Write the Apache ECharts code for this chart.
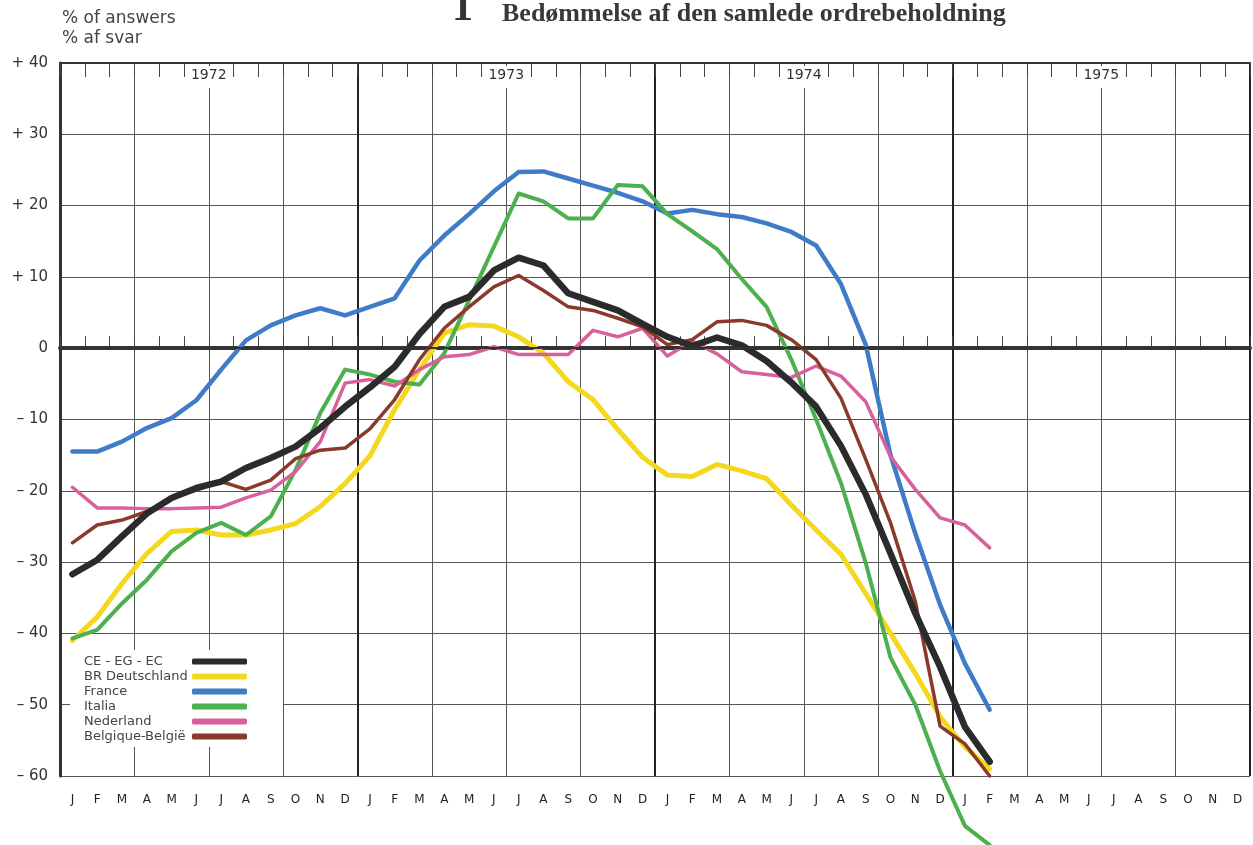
<!DOCTYPE html>
<html>
<head>
<meta charset="utf-8">
<title>Bedømmelse af den samlede ordrebeholdning</title>
<script src="https://cdn.jsdelivr.net/npm/echarts@6/dist/echarts.min.js"></script>
<style>
  body { margin: 0; background: #fff; }
  #main { width: 1253px; height: 845px; }
</style>
</head>
<body>
<div id="main"></div>
<script>
// month letters, 4 years 1972-1975
var monthLetters = ['J', 'F', 'M', 'A', 'M', 'J', 'J', 'A', 'S', 'O', 'N', 'D'];
var years = [1972, 1973, 1974, 1975];
var yTicks = [-60, -50, -40, -30, -20, -10, 0, 10, 20, 30, 40];

// % of answers, monthly from J 1972 to F 1975
var ec = [-31.7, -29.7, -26.4, -23.2, -21.0, -19.6, -18.7, -16.8, -15.4, -13.8, -11.2, -8.2,
  -5.5, -2.6, 2.0, 5.8, 7.2, 10.9, 12.7, 11.6, 7.7, 6.5, 5.3, 3.4,
  1.6, 0.3, 1.5, 0.4, -1.8, -4.8, -8.2, -13.7, -20.5, -28.8, -37.2, -44.7,
  -53.1, -58.0];
var deutschland = [-41.0, -37.7, -33.0, -28.8, -25.7, -25.5, -26.2, -26.2, -25.5, -24.6, -22.2, -19.0,
  -15.1, -8.6, -3.0, 2.1, 3.3, 3.1, 1.6, -0.7, -4.7, -7.2, -11.4, -15.3,
  -17.8, -18.0, -16.3, -17.2, -18.3, -22.0, -25.5, -28.9, -34.4, -40.0, -45.6, -51.7,
  -55.9, -59.0];
var france = [-14.5, -14.5, -13.1, -11.2, -9.8, -7.3, -3.0, 1.1, 3.2, 4.6, 5.6, 4.6,
  5.8, 7.0, 12.3, 15.8, 18.8, 22.0, 24.7, 24.8, 23.8, 22.8, 21.8, 20.6,
  18.9, 19.4, 18.8, 18.4, 17.5, 16.3, 14.4, 9.0, 0.5, -15.0, -26.0, -36.0,
  -44.2, -50.7];
var italia = [-40.7, -39.5, -35.8, -32.5, -28.5, -25.9, -24.5, -26.2, -23.6, -17.1, -9.1, -3.0,
  -3.7, -4.7, -5.1, -0.7, 6.7, 14.2, 21.7, 20.6, 18.2, 18.2, 22.9, 22.7,
  18.8, 16.4, 13.9, 9.7, 5.8, -1.6, -10.0, -18.9, -30.1, -43.4, -50.0, -59.3,
  -67.0, -69.7];
var nederland = [-19.5, -22.4, -22.4, -22.5, -22.5, -22.4, -22.3, -21.0, -19.9, -17.3, -13.1, -4.9,
  -4.4, -5.3, -3.0, -1.2, -0.9, 0.2, -0.9, -0.9, -0.9, 2.5, 1.6, 2.8,
  -1.1, 1.0, -0.8, -3.3, -3.7, -4.1, -2.5, -3.9, -7.5, -15.2, -19.8, -23.8,
  -24.8, -28.0];
var belgique = [-27.3, -24.8, -24.1, -22.9, -21.1, -19.9, -18.7, -19.8, -18.5, -15.5, -14.3, -14.0,
  -11.3, -7.2, -1.6, 2.8, 5.8, 8.6, 10.2, 8.1, 5.8, 5.3, 4.2, 3.0,
  0.5, 1.2, 3.7, 3.9, 3.2, 1.2, -1.6, -7.0, -15.6, -24.5, -35.5, -53.0,
  -55.5, -60.0];

var names = ['CE - EG - EC', 'BR Deutschland', 'France', 'Italia', 'Nederland', 'Belgique-België'];

var months = [];
for (var y = 0; y < years.length; y++) {
  for (var m = 0; m < monthLetters.length; m++) {
    months.push(monthLetters[m]);
  }
}

var chart = echarts.init(document.getElementById('main'));

function line(name, data, color, width, z) {
  return {
    name: name,
    type: 'line',
    data: data,
    xAxisIndex: 0,
    symbol: 'none',
    clip: false,
    z: z,
    lineStyle: { color: color, width: width, cap: 'round', join: 'round' },
    itemStyle: { color: color }
  };
}

var series = [
  line(names[1], deutschland, '#f3d81e', 5, 2),
  line(names[2], france, '#3f7cc8', 4.5, 2),
  line(names[3], italia, '#4cb04f', 4, 2),
  line(names[4], nederland, '#d8609b', 3.5, 2),
  line(names[5], belgique, '#8a3a2b', 3.5, 2),
  line(names[0], ec, '#2b2b2b', 6.5, 3)
];
// heavier zero line
series[0].markLine = {
  silent: true,
  symbol: 'none',
  label: { show: false },
  lineStyle: { color: '#333', width: 2, type: 'solid' },
  data: [{ yAxis: 0 }]
};

chart.setOption({
  animation: false,
  backgroundColor: '#fff',
  textStyle: { fontFamily: 'DejaVu Sans' },
  graphic: [
    {
      type: 'text', left: 62, top: 10,
      style: { text: '% of answers', font: '17px "DejaVu Sans"', fill: '#444' }
    },
    {
      type: 'text', left: 62, top: 30,
      style: { text: '% af svar', font: '17px "DejaVu Sans"', fill: '#444' }
    },
    {
      type: 'text', left: 452, top: -12,
      style: { text: '1', font: 'bold 42px "Liberation Serif"', fill: '#333' }
    },
    {
      type: 'text', left: 502, top: 1,
      style: { text: 'Bedømmelse af den samlede ordrebeholdning', font: 'bold 26px "Liberation Serif"', fill: '#383838' }
    }
  ],
  legend: {
    data: names,
    orient: 'vertical',
    align: 'right',
    left: 70,
    top: 650,
    padding: [5, 36, 4, 14],
    backgroundColor: '#fff',
    itemGap: 2,
    itemWidth: 55,
    itemHeight: 6,
    icon: 'roundRect',
    formatter: function (name) {
      return '{t|' + name + '}';
    },
    textStyle: {
      rich: {
        t: { width: 103, align: 'left', fontSize: 13, lineHeight: 15, color: '#444', fontFamily: 'DejaVu Sans' }
      }
    }
  },
  grid: { left: 60, right: 0, top: 63, bottom: 69 },
  xAxis: [
    {
      type: 'category',
      data: months,
      position: 'bottom',
      boundaryGap: true,
      axisLine: { lineStyle: { color: '#333', width: 4 } },
      axisTick: { show: true, inside: true, interval: 0, length: 12, lineStyle: { color: '#444', width: 1 } },
      axisLabel: { interval: 0, margin: 18, fontSize: 12, color: '#222', fontFamily: 'DejaVu Sans' },
      splitLine: { show: false }
    },
    {
      type: 'value',
      position: 'top',
      min: 0, max: 48, interval: 1,
      z: 5,
      axisLine: { show: true, lineStyle: { color: '#333', width: 2 } },
      axisTick: { show: true, inside: true, length: 14, lineStyle: { color: '#444', width: 1 } },
      axisLabel: {
        inside: true,
        margin: 3,
        formatter: function (v) {
          if (v % 12 === 6) return '{y|' + years[(v - 6) / 12] + '}';
          return '';
        },
        rich: {
          y: { fontSize: 14, color: '#333', backgroundColor: '#fff', padding: [2, 3, 6, 3], fontFamily: 'DejaVu Sans' }
        }
      },
      splitLine: { show: false }
    },
    {
      type: 'value',
      min: 0, max: 48, interval: 3,
      axisLine: { show: false },
      axisTick: { show: false },
      axisLabel: { show: false },
      splitLine: { show: true, lineStyle: { color: '#555', width: 1 } }
    },
    {
      type: 'value',
      min: 0, max: 48, interval: 12,
      axisLine: { show: false },
      axisTick: { show: false },
      axisLabel: { show: false },
      splitLine: { show: true, lineStyle: { color: '#222', width: 2 } }
    }
  ],
  yAxis: {
    type: 'value',
    min: yTicks[0],
    max: yTicks[yTicks.length - 1],
    interval: 10,
    axisLine: { show: true, lineStyle: { color: '#333', width: 3 } },
    axisTick: { show: false },
    axisLabel: {
      margin: 12,
      fontSize: 15,
      color: '#333',
      fontFamily: 'DejaVu Sans',
      formatter: function (v) {
        if (v > 0) return '+ ' + v;
        if (v < 0) return '\u2013 ' + Math.abs(v);
        return '0';
      }
    },
    splitLine: { show: true, lineStyle: { color: '#555', width: 1 } }
  },
  series: series
});
</script>
</body>
</html>
